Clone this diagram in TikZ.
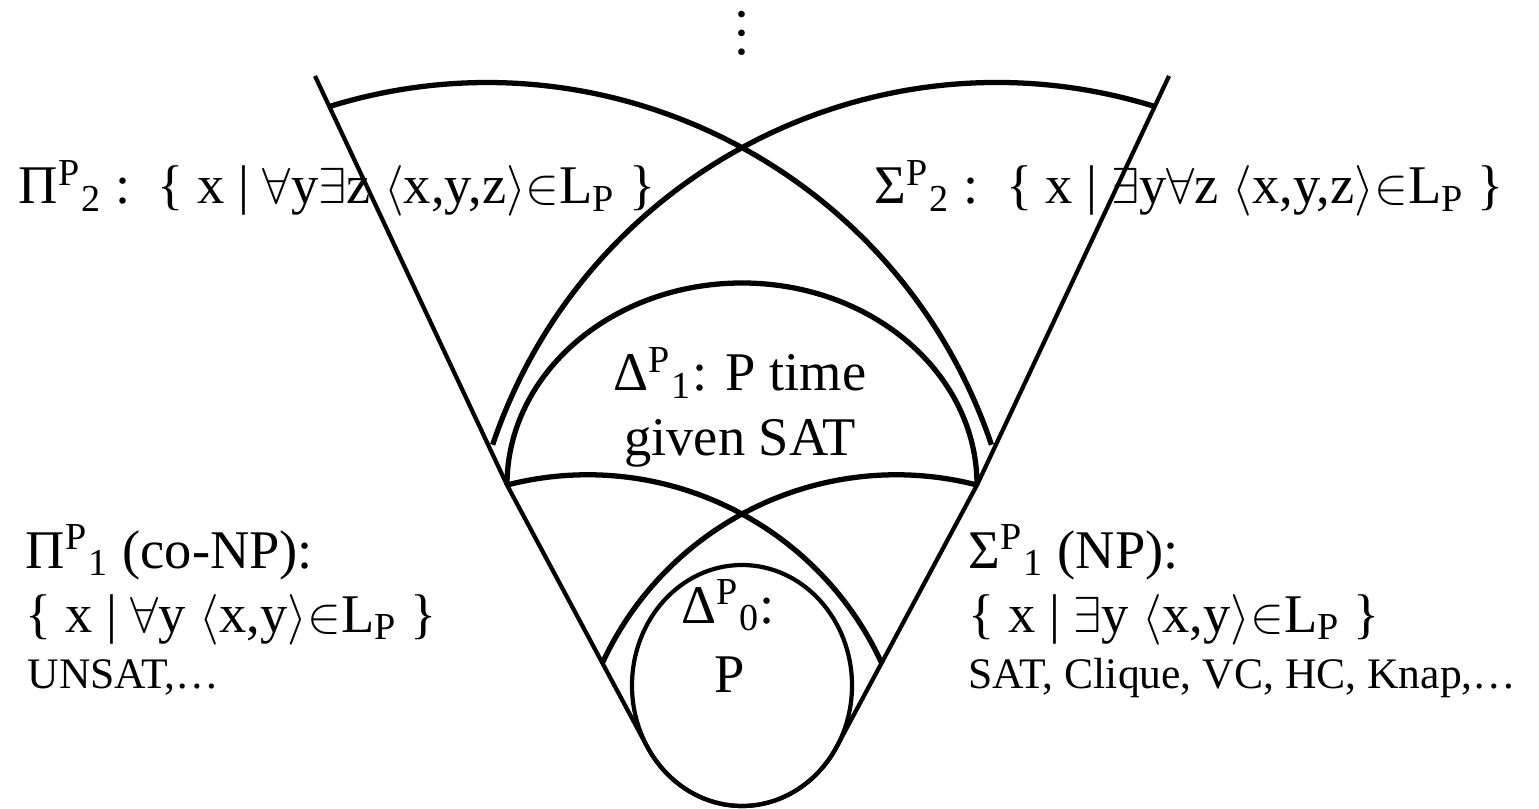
\documentclass[tikz,border=0pt]{standalone}
\usepackage{fontspec}
\setmainfont{Liberation Serif}
\usepackage{tikz}
\usetikzlibrary{positioning,calc}
\tikzset{
  rim/.style   = {line width=1.2pt,line join=round},
  lens/.style  = {line width=1.5pt},
  lbl/.style   = {inner sep=0pt,anchor=base west,
                  font=\fontsize{15.5}{15.5}\selectfont},
  small/.style = {inner sep=0pt,anchor=base west,
                  font=\fontsize{12.4}{12.4}\selectfont},
  mid/.style   = {lbl,anchor=base},
}
\newcommand{\cls}[2]{#1\textsuperscript{P}\textsubscript{#2}}
\newcommand{\tup}[1]{$\langle$#1$\rangle$}
\newcommand{\LP}{$\in$L\textsubscript{P}}

\begin{document}
\begin{tikzpicture}
  \useasboundingbox (0,0) rectangle (15.39,8.08);
  % corners of the cone
  \coordinate (tl) at (3.15,7.32);
  \coordinate (tr) at (11.69,7.32);
  \coordinate (bl) at (5.07,3.23);
  \coordinate (br) at (9.77,3.23);
  \coordinate (tanl) at (6.471,0.615);
  \coordinate (nl) at (6.024,1.45);
  \coordinate (s2) at (4.9265,3.6326);
  \coordinate (p2) at (3.281,7.0106);
  % outer cone, bottom follows P
  \draw[rim] (tl) -- (bl) -- (tanl)
    arc[start angle=210.42,end angle=329.58,x radius=1.10,y radius=1.205]
    -- (br) -- (tr);
  \draw[rim] (7.42,1.225) ellipse[x radius=1.10,y radius=1.205];
  % Delta_1 dome
  \draw[lens] (bl) arc[start angle=180,end angle=0,x radius=2.35,y radius=2.02];
  % level 1
  \draw[lens] (bl) arc[start angle=104.42,end angle=24.75,radius=3.2372];
  \draw[lens] (nl) arc[start angle=155.25,end angle=75.58,radius=3.2372];
  % level 2
  \draw[lens] (s2) arc[start angle=161.36,end angle=72.62,radius=5.323];
  \draw[lens] (p2) arc[start angle=107.38,end angle=18.64,radius=5.323];

  \node[rotate=90,inner sep=0pt,font=\fontsize{16}{16}\selectfont]
    (dots) at (7.42,7.75) {…};

  \node[lbl] (pi2) at (0.18,6.04)
    {\cls{Π}{2} :\ \ \{ x | $\forall$y$\exists$z \tup{x,y,z}\LP{} \}};
  \node[lbl] (sig2) at (8.74,6.04)
    {\cls{Σ}{2} :\ \ \{ x | $\exists$y$\forall$z \tup{x,y,z}\LP{} \}};

  \node[mid] (del1a) at (7.40,4.17) {\cls{Δ}{1}: P time};
  \node[mid] (del1b) at (7.40,3.53) {given SAT};

  \node[lbl] (pi1) at (0.25,2.40) {\cls{Π}{1} (co-NP):};
  \node[lbl] (pi1s) at (0.25,1.76) {\{ x | $\forall$y \tup{x,y}\LP{} \}};
  \node[small] (pi1e) at (0.27,1.20) {UNSAT,…};

  \node[lbl] (sig1) at (9.68,2.40) {\cls{Σ}{1} (NP):};
  \node[lbl] (sig1s) at (9.68,1.76) {\{ x | $\exists$y \tup{x,y}\LP{} \}};
  \node[small] (sig1e) at (9.68,1.20) {SAT, Clique, VC, HC, Knap,…};

  \node[mid] (del0) at (7.28,1.85) {\cls{Δ}{0}:};
  \node[mid] (pcls) at (7.30,1.16) {P};
\end{tikzpicture}
\end{document}
